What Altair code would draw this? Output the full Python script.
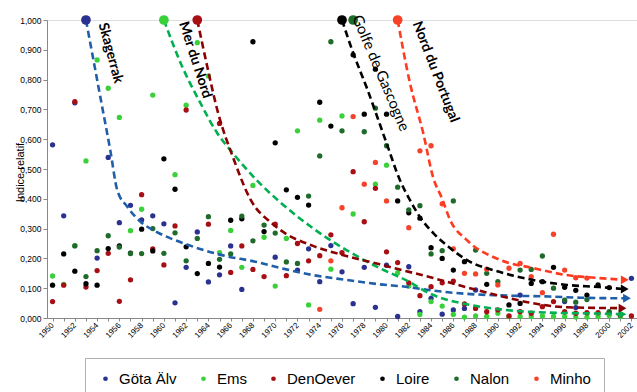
import altair as alt
import pandas as pd

SERIES = ["Göta Älv", "Ems", "DenOever", "Loire", "Nalon", "Minho"]
COLORS = ["#2B3190", "#3AD03A", "#A80F14", "#000000", "#1E6B2A", "#F5432A"]

gota_years = [1950, 1951, 1952, 1954, 1955, 1956, 1957, 1958, 1959, 1960, 1961, 1962, 1963, 1964, 1965,
              1966, 1967, 1970, 1972, 1973, 1974, 1975, 1976, 1977, 1978, 1979, 1980, 1981, 1982, 1983,
              1984, 1985, 1986, 1987, 1988, 1992, 1996, 1997, 2002]
gota_vals = [0.581, 0.343, 0.722, 0.201, 0.539, 0.320, 0.378, 0.329, 0.343, 0.316, 0.051, 0.170, 0.289,
             0.121, 0.145, 0.242, 0.096, 0.204, 0.161, 0.232, 0.122, 0.243, 0.155, 0.048, 0.170, 0.036,
             0.177, 0.005, 0.172, 0.021, 0.066, 0.013, 0.027, 0.032, 0.094, 0.077, 0.055, 0.035, 0.133]

ems_years = [1950, 1951, 1952, 1953, 1954, 1955, 1956, 1957, 1958, 1959, 1961, 1962, 1963, 1964, 1965,
             1966, 1967, 1968, 1969, 1970, 1971, 1972, 1973, 1974, 1975, 1976, 1977, 1979, 1980, 1981,
             1982, 1983, 1984, 1985, 1986, 1987, 1988, 1989, 1990, 1991, 1992, 1993, 1994, 1995, 1996,
             1997, 1998, 1999, 2000, 2001]
ems_vals = [0.141, 0.113, 0.243, 0.527, 0.866, 0.771, 0.673, 0.293, 0.365, 0.748, 0.481, 0.714, 0.924,
            0.812, 0.219, 0.294, 0.170, 0.445, 0.271, 0.107, 0.267, 0.628, 0.044, 0.664, 0.164, 0.678,
            0.349, 0.449, 0.513, 0.152, 0.107, 0.012, 0.055, 0.040, 0.012, 0.003, 0.007, 0.005, 0.016,
            0.005, 0.005, 0.005, 0.007, 0.005, 0.005, 0.003, 0.003, 0.005, 0.008, 0.005]

denoever_years = [1950, 1951, 1952, 1953, 1954, 1955, 1956, 1957, 1958, 1959, 1960, 1961, 1962, 1964,
                  1965, 1966, 1967, 1968, 1969, 1970, 1971, 1972, 1973, 1974, 1975, 1976, 1977, 1978,
                  1979, 1980, 1981, 1982, 1983, 1984, 1985, 1986, 1987, 1988, 1989, 1990, 1991, 1992,
                  1993, 1994, 1995, 1996, 1997, 1998, 1999, 2000, 2001, 2002]
denoever_vals = [0.055, 0.110, 0.726, 0.104, 0.159, 0.217, 0.056, 0.128, 0.414, 0.232, 0.178, 0.309,
                 0.698, 0.315, 0.653, 0.153, 0.242, 0.163, 0.139, 0.315, 0.142, 0.250, 0.192, 0.209,
                 0.279, 0.219, 0.491, 0.323, 0.435, 0.222, 0.186, 0.118, 0.075, 0.105, 0.118, 0.124,
                 0.047, 0.032, 0.021, 0.027, 0.007, 0.021, 0.016, 0.038, 0.055, 0.021, 0.016, 0.018,
                 0.018, 0.018, 0.010, 0.007]

loire_years = [1950, 1951, 1952, 1953, 1954, 1955, 1956, 1957, 1958, 1959, 1960, 1961, 1962, 1963, 1964,
               1965, 1966, 1967, 1968, 1969, 1970, 1971, 1972, 1973, 1974, 1975, 1977, 1978, 1979, 1980,
               1981, 1982, 1983, 1984, 1985, 1986, 1987, 1989, 1991, 1992, 1993, 1994, 1995, 1996, 1997,
               1998, 1999, 2000]
loire_vals = [0.110, 0.215, 0.157, 0.115, 0.110, 0.233, 0.242, 0.218, 0.298, 0.225, 0.534, 0.432, 0.239,
              0.149, 0.183, 0.171, 0.328, 0.333, 0.927, 0.290, 0.588, 0.430, 0.405, 0.379, 0.724, 0.644,
              0.883, 0.684, 0.835, 0.684, 0.393, 0.353, 0.335, 0.236, 0.200, 0.161, 0.189, 0.113, 0.044,
              0.049, 0.116, 0.122, 0.170, 0.103, 0.093, 0.077, 0.111, 0.102]

nalon_years = [1952, 1953, 1954, 1955, 1956, 1957, 1958, 1959, 1960, 1961, 1962, 1963, 1964, 1965, 1966,
               1967, 1968, 1969, 1970, 1971, 1972, 1973, 1974, 1975, 1976, 1978, 1979, 1980, 1981, 1982,
               1983, 1984, 1985, 1986, 1988, 1989, 1990, 1992, 1993, 1994, 1995, 1996, 1997, 1998, 2000]
nalon_vals = [0.242, 0.139, 0.226, 0.276, 0.238, 0.216, 0.216, 0.300, 0.217, 0.286, 0.192, 0.267, 0.340,
              0.197, 0.215, 0.342, 0.259, 0.312, 0.285, 0.188, 0.183, 0.409, 0.544, 0.927, 0.628, 0.625,
              0.704, 0.578, 0.439, 0.363, 0.377, 0.215, 0.226, 0.393, 0.228, 0.150, 0.122, 0.161, 0.163,
              0.208, 0.100, 0.060, 0.053, 0.062, 0.021]

minho_years = [1974, 1975, 1976, 1977, 1978, 1979, 1980, 1982, 1983, 1984, 1985, 1986, 1987, 1988, 1989,
               1990, 1991, 1992, 1993, 1994, 1995, 1996, 1997, 1998]
minho_vals = [0.029, 0.192, 0.370, 0.676, 0.449, 0.522, 0.393, 0.303, 0.561, 0.578, 0.383, 0.232, 0.150,
              0.148, 0.164, 0.111, 0.167, 0.183, 0.139, 0.085, 0.281, 0.161, 0.135, 0.134]

# large starting dots (value 1.000)
start_years = [1953, 1960, 1963, 1976, 1977, 1981]
start_vals = [1.0, 1.0, 1.0, 1.0, 1.0, 1.0]

# dashed trend curves
REGIONS = ["Skagerrak", "Mer du Nord (Ems)", "Mer du Nord", "Golfe de Gascogne", "Nord du Portugal"]
REGION_COLORS = ["#1F5FAA", "#00B050", "#8B0000", "#000000", "#FF3A1E"]
skag_x = [1953, 1953.5, 1954.5, 1955.2, 1955.8, 1956.7, 1957.9, 1959.3, 1962.2, 1965.2, 1968.2, 1970.9,
          1973.4, 1976.4, 1979.4, 1981.7, 1984.2, 1987.2, 1990.2, 1994.6, 1997.5, 2001.6]
skag_y = [1.0, 0.90, 0.70, 0.56, 0.43, 0.374, 0.323, 0.29, 0.245, 0.211, 0.189, 0.164, 0.144, 0.128,
          0.113, 0.105, 0.092, 0.081, 0.076, 0.072, 0.068, 0.066]
ems_cx = [1960, 1961.5, 1963.3, 1964.8, 1966.2, 1968.4, 1970.4, 1973.4, 1976.4, 1979.4, 1981.7, 1984.2,
          1987.2, 1990.2, 1994.6, 1997.5, 2001.2]
ems_cy = [1.0, 0.856, 0.72, 0.62, 0.553, 0.46, 0.39, 0.301, 0.228, 0.167, 0.128, 0.077, 0.046, 0.029,
          0.018, 0.016, 0.013]
den_cx = [1963, 1963.9, 1964.8, 1966.3, 1967.8, 1969.7, 1970.9, 1973.4, 1976.4, 1979.4, 1981.7, 1984.2,
          1987.2, 1990.2, 1993.1, 1996.2, 2001.2]
den_cy = [1.0, 0.843, 0.698, 0.53, 0.396, 0.318, 0.284, 0.242, 0.208, 0.18, 0.158, 0.134, 0.103, 0.074,
          0.05, 0.036, 0.033]
loire_cx = [1976, 1977, 1978.2, 1980, 1981.2, 1982.1, 1983, 1984.2, 1985.7, 1987.2, 1990.2, 1993.1,
            1996.2, 1999.1, 2001.4]
loire_cy = [1.0, 0.89, 0.775, 0.587, 0.463, 0.396, 0.339, 0.285, 0.235, 0.195, 0.154, 0.128, 0.111,
            0.104, 0.097]
minho_cx = [1981, 1982.1, 1983.3, 1984.2, 1985, 1985.7, 1987.2, 1990.2, 1993.1, 1996.2, 1999.1, 2001.4]
minho_cy = [1.0, 0.789, 0.62, 0.47, 0.40, 0.33, 0.262, 0.195, 0.168, 0.144, 0.134, 0.128]

LABELS = ["Skagerrak", "Mer du Nord", "Golfe de Gascogne", "Nord du Portugal"]
label_x = [1955.2, 1962.8, 1979.5, 1984.4]
label_y = [0.889, 0.866, 0.822, 0.826]
label_angle = [75, 72, 67, 69]
label_weight = ["bold", "bold", "normal", "bold"]
label_size = [14, 14, 15, 14]

YEAR_TICKS = list(range(1950, 2003))
Y_TICKS = [round(i * 0.1, 1) for i in range(11)]

# ---- build tables ----
pts = []
for name, ys, vs in zip(SERIES,
                        [gota_years, ems_years, denoever_years, loire_years, nalon_years, minho_years],
                        [gota_vals, ems_vals, denoever_vals, loire_vals, nalon_vals, minho_vals]):
    for y, v in zip(ys, vs):
        pts.append({"year": y, "value": v, "series": name})
pts = pd.DataFrame(pts)

big = pd.DataFrame({"year": start_years, "value": start_vals, "series": SERIES})

crv = []
for reg, xs, ys in zip(REGIONS, [skag_x, ems_cx, den_cx, loire_cx, minho_cx],
                       [skag_y, ems_cy, den_cy, loire_cy, minho_cy]):
    for i, (x, y) in enumerate(zip(xs, ys)):
        crv.append({"year": x, "value": y, "region": reg, "i": i})
crv = pd.DataFrame(crv)
ends = crv.sort_values("i").groupby("region").tail(1)

xscale = alt.Scale(domain=[1949.5, 2002.5], nice=False, zero=False)
yscale = alt.Scale(domain=[0, 1], nice=False, zero=True)

legend = alt.Legend(
    title=None, orient="none", direction="horizontal", legendX=38, legendY=338,
    labelFont="Liberation Sans", labelFontSize=15, labelColor="#000000",
    symbolType="circle", symbolSize=22, symbolStrokeWidth=0, labelOffset=6,
    columnPadding=19, padding=13, strokeColor="#B0B0B0",
)
color = alt.Color("series:N", scale=alt.Scale(domain=SERIES, range=COLORS), legend=legend,
                  sort=SERIES)

xaxis = alt.Axis(values=YEAR_TICKS, labelExpr="datum.value % 2 == 0 ? datum.value : ''",
                 labelAngle=315, labelAlign="right", labelBaseline="middle", labelFontSize=8,
                 labelPadding=3, tickSize=3, grid=False, title=None, labelOverlap=False,
                 labelFlush=False)
yaxis = alt.Axis(values=Y_TICKS, labelExpr="replace(format(datum.value, '.3f'), '.', ',')",
                 labelFontSize=8.5, tickSize=4, grid=False, title="Indice relatif",
                 titleFontSize=11, titleFontWeight="normal", titleX=-27, titleY=152,
                 titleAngle=270, titleAlign="center", titleBaseline="middle",
                 labelOverlap=False, labelFlush=False)

X = alt.X("year:Q", scale=xscale, axis=xaxis)
Y = alt.Y("value:Q", scale=yscale, axis=yaxis)

points = alt.Chart(pts).mark_circle(size=28, opacity=1).encode(x=X, y=Y, color=color)

bigpts = alt.Chart(big).mark_circle(size=95, opacity=1).encode(x=X, y=Y, color=color)

curves = alt.Chart(crv).mark_line(strokeDash=[7, 4], strokeWidth=2.6, interpolate="monotone").encode(
    x=X, y=Y, order="i:Q",
    stroke=alt.Stroke("region:N", scale=alt.Scale(domain=REGIONS, range=REGION_COLORS), legend=None))

arrows = alt.Chart(ends).mark_point(shape="triangle-right", filled=True, size=80, opacity=1).encode(
    x=X, y=Y,
    fill=alt.Fill("region:N", scale=alt.Scale(domain=REGIONS, range=REGION_COLORS), legend=None))

label_layers = []
for t, lx, ly, ang, w, fs in zip(LABELS, label_x, label_y, label_angle, label_weight, label_size):
    df = pd.DataFrame({"year": [lx], "value": [ly], "text": [t]})
    label_layers.append(
        alt.Chart(df).mark_text(font="Lato", fontSize=fs, fontWeight=w, angle=ang, align="center",
                                baseline="middle", color="#000000").encode(
            x=X, y=Y, text="text:N"))

chart = alt.layer(points, curves, arrows, bigpts, *label_layers).properties(
    width=590, height=298, autosize=alt.AutoSizeParams(type="none"),
    padding={"left": 47, "top": 20, "right": 0, "bottom": 74},
).configure_view(stroke=None).configure_axis(
    domainColor="#A6A6A6", domainWidth=1.5, tickColor="#A6A6A6", labelColor="#333333",
    labelFont="Liberation Sans", titleFont="Liberation Sans", titleColor="#333333",
).configure(background="white")

chart.save("out.html", embed_options={"renderer": "svg", "actions": False})
